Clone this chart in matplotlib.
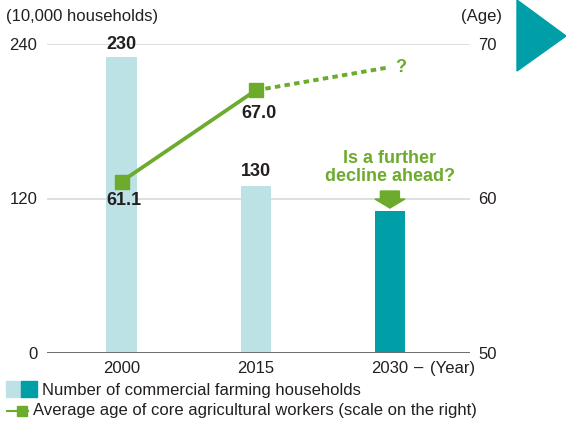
import matplotlib
matplotlib.use("Agg")
import matplotlib.pyplot as plt
from matplotlib.patches import Polygon, Rectangle
from matplotlib.lines import Line2D

plt.rcParams['font.family'] = ['Liberation Sans', 'DejaVu Sans']

years = ["2000", "2015", "2030"]
households = [230, 130, 110]          # 10,000 households
household_labels = ["230", "130", None]
ages = [61.1, 67.0, 68.5]             # average age (right scale)
age_labels = ["61.1", "67.0", "?"]

LIGHT = "#bce2e6"
TEAL = "#009fa8"
GREEN = "#6cab2c"
TXT = "#231f20"
GRID = "#d9d9d9"
FS = 12

W, H = 566, 424
fig = plt.figure(figsize=(W / 100, H / 100), dpi=100)
ax = fig.add_axes([47 / W, 1 - 353 / H, (470 - 47) / W, (353 - 44) / H])
ax2 = ax.twinx()

x = list(range(len(years)))
bar_colors = [LIGHT, LIGHT, TEAL]
ax.bar(x, households, width=0.225, color=bar_colors, zorder=2)

ax.set_ylim(0, 240)
ax.set_xlim(-0.556, 2.597)
ax.set_yticks([0, 120, 240])
ax.set_yticklabels(["0", "120", "240"])
ax.set_xticks(x)
ax.set_xticklabels(years)
for yv in (120, 240):
    ax.axhline(yv, color=GRID, lw=1.2, zorder=1)
ax.axhline(0, color="#6d6e71", lw=1.4, zorder=3)
for s in list(ax.spines.values()) + list(ax2.spines.values()):
    s.set_visible(False)
ax.tick_params(axis='both', length=0, labelsize=FS, colors=TXT)
ax.tick_params(axis='y', pad=7)
ax.tick_params(axis='x', pad=6)

ax2.set_ylim(50, 70)
ax2.set_yticks([50, 60, 70])
ax2.tick_params(axis='y', length=0, labelsize=FS, colors=TXT, pad=6)

# age line: solid for observed values, dashed toward the projection
ax2.plot(x[:2], ages[:2], color=GREEN, lw=2.7, zorder=4)
ax2.plot(x[1:], ages[1:], color=GREEN, lw=2.8, ls=(0, (1.4, 1.1)), zorder=4)
ax2.plot(x[:2], ages[:2], ls='none', marker='s', ms=10, color=GREEN, zorder=5)

bold = dict(fontweight='bold', fontsize=13, color=TXT, ha='center', va='center')
for xi, v, lab, off in zip(x, households, household_labels, (9, 10, 0)):
    if lab:
        ax.annotate(lab, (xi, v), xytext=(0, off), textcoords='offset points', **bold)
for xi, a, lab, off in zip(x[:2], ages[:2], age_labels[:2], (-14, -17)):
    ax2.annotate(lab, (xi, a), xytext=(2, off), textcoords='offset points', **bold)
ax2.annotate(age_labels[2], (x[2], ages[2]), xytext=(8, 0), textcoords='offset points',
             fontweight='bold', fontsize=13, color=GREEN, ha='center', va='center')

ax.text(x[2], 144, "Is a further\ndecline ahead?", color=GREEN, fontsize=13,
        fontweight='bold', ha='center', va='center', linespacing=1.1)
# downward block arrow above the projected bar
sw, hw = 0.071, 0.112
ax.add_patch(Polygon([(x[2] - sw, 125.8), (x[2] + sw, 125.8), (x[2] + sw, 119.6),
                      (x[2] + hw, 119.6), (x[2], 112.6), (x[2] - hw, 119.6),
                      (x[2] - sw, 119.6)], closed=True, color=GREEN, zorder=4))

fig.text(6 / W, 1 - 17 / H, "(10,000 households)", fontsize=FS, color=TXT, va='center')
fig.text(482 / W, 1 - 17 / H, "(Age)", fontsize=FS, color=TXT, va='center', ha='center')
fig.text(419 / W, 1 - 368 / H, "\u2013", fontsize=FS, color=TXT, va='center', ha='center')
fig.text(453 / W, 1 - 368 / H, "(Year)", fontsize=FS, color=TXT, va='center', ha='center')

# corner triangle
fig.add_artist(Polygon([(517 / W, 1.0), (1.0, 1 - 36 / H), (517 / W, 1 - 71 / H)],
                       closed=True, transform=fig.transFigure, color=TEAL))

# legend
fig.add_artist(Rectangle((6 / W, 1 - 397 / H), 15 / W, 16 / H,
                         transform=fig.transFigure, color=LIGHT))
fig.add_artist(Rectangle((21 / W, 1 - 397 / H), 16 / W, 16 / H,
                         transform=fig.transFigure, color=TEAL))
fig.text(42 / W, 1 - 390 / H, "Number of commercial farming households",
         fontsize=FS, color=TXT, va='center')
fig.add_artist(Line2D([7 / W, 28 / W], [1 - 411 / H] * 2, transform=fig.transFigure,
                      color=GREEN, lw=1.5))
fig.add_artist(Line2D([21.5 / W], [1 - 411 / H], transform=fig.transFigure,
                      color=GREEN, marker='s', ms=6.5, ls='none'))
fig.text(33 / W, 1 - 411 / H, "Average age of core agricultural workers (scale on the right)",
         fontsize=FS, color=TXT, va='center')

fig.savefig("out.png", dpi=100)
